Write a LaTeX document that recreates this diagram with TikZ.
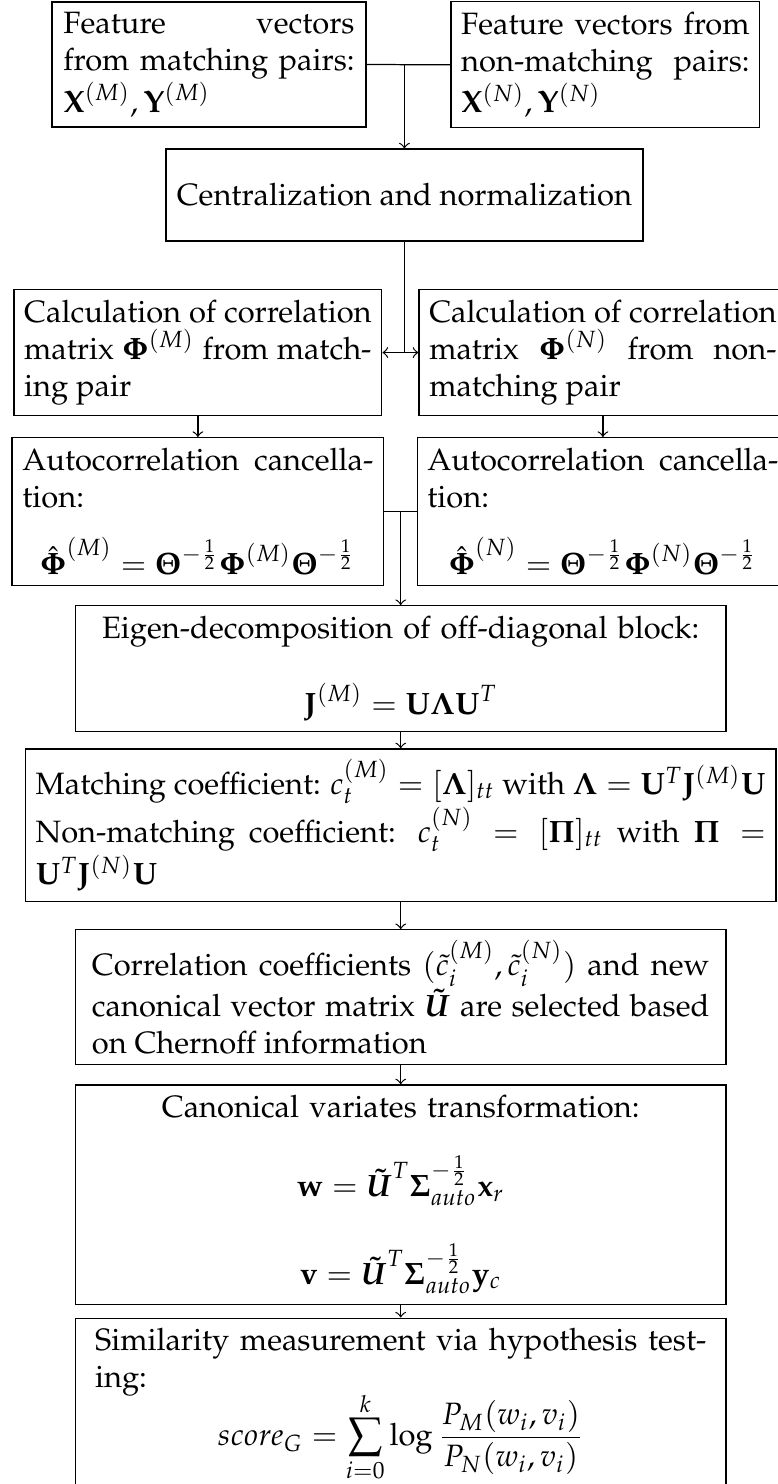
\documentclass[tikz,border=0pt]{standalone}
\usepackage[T1]{fontenc}
\usepackage{mathpazo}
\usepackage{amsmath}
\usepackage{amssymb}
\usepackage{tikz}
\usetikzlibrary{arrows, positioning}

% space above a display inside a box, none below it
\newcommand{\eqgap}[1]{\abovedisplayskip=#1\relax\abovedisplayshortskip=#1\relax
    \belowdisplayskip=0pt\relax\belowdisplayshortskip=0pt\relax}

\begin{document}
\begin{tikzpicture}[
    node distance=6.8pt,
    box/.style={rectangle, draw, align=justify},
    cbox/.style={rectangle, draw, align=center},
    arrow/.style={->}
]
    \useasboundingbox (0,0) rectangle (252pt,-480.7pt);

    % Nodes
    \node[box, text width=94.3pt, inner xsep=3.7pt, minimum height=39.8pt] (featm) at (67.7pt,-20.9pt) {Feature vectors\linebreak from matching pairs: $\mathbf{X}^{(M)},\mathbf{Y}^{(M)}$};
    \node[box, text width=93.4pt, minimum height=40.2pt] (featn) at (196.1pt,-21pt) {Feature vectors from non-matching pairs: $\mathbf{X}^{(N)},\mathbf{Y}^{(N)}$};
    \node[cbox, minimum width=154.5pt, minimum height=29.8pt] (centr) at (131pt,-63.2pt) {Centralization and normalization};

    \node[box, text width=112.5pt, minimum height=40.2pt] (corrm) at (64.1pt,-114.2pt) {Calculation of correlation matrix $\boldsymbol{\Phi}^{(M)}$ from matching pair};
    \node[box, text width=112.5pt, minimum height=40.2pt] (corrn) at (195.3pt,-114.2pt) {Calculation of correlation matrix $\boldsymbol{\Phi}^{(N)}$ from non-matching pair};
    \node[box, text width=113.7pt, minimum height=47.7pt, below=of corrm] (autom) {Autocorrelation cancellation:\eqgap{8.6pt}
        \[\hat{\boldsymbol{\Phi}}^{(M)}=\boldsymbol{\Theta}^{-\frac{1}{2}}\boldsymbol{\Phi}^{(M)}\boldsymbol{\Theta}^{-\frac{1}{2}}\]};
    \node[box, text width=113.7pt, minimum height=47.7pt, below=of corrn] (auton) {Autocorrelation cancellation:\eqgap{8.6pt}
        \[\hat{\boldsymbol{\Phi}}^{(N)}=\boldsymbol{\Theta}^{-\frac{1}{2}}\boldsymbol{\Phi}^{(N)}\boldsymbol{\Theta}^{-\frac{1}{2}}\]};

    \node[cbox, text width=204pt, minimum height=39.8pt, anchor=north] (eigen) at (129.8pt,-196pt) {Eigen-decomposition of off-diagonal block:\eqgap{10.8pt}
        \[\mathbf{J}^{(M)}=\mathbf{U}\boldsymbol{\Lambda}\mathbf{U}^T\]};
    \node[box, text width=236.5pt, minimum height=49.2pt, anchor=north] (coef) at (129.8pt,-242.4pt) {Matching coefficient: $c_t^{(M)}=[\boldsymbol{\Lambda}]_{tt}$ with $\boldsymbol{\Lambda}=\mathbf{U}^T\mathbf{J}^{(M)}\mathbf{U}$\par
        Non-matching coefficient: $c_t^{(N)}=[\boldsymbol{\Pi}]_{tt}$ with $\boldsymbol{\Pi}=\mathbf{U}^T\mathbf{J}^{(N)}\mathbf{U}$};
    \node[box, text width=200pt, inner xsep=5.35pt, minimum height=43.4pt, below=8.8pt of coef] (select) {Correlation coefficients $(\tilde{c}_i^{(M)},\tilde{c}_i^{(N)})$ and new canonical vector matrix $\boldsymbol{\tilde{U}}$ are selected based on Chernoff information};
    \node[cbox, text width=204pt, minimum height=68.7pt, below=6.3pt of select] (trans) {Canonical variates transformation:\eqgap{11pt}
        \[\mathbf{w}=\boldsymbol{\tilde{U}}^T\boldsymbol{\Sigma}_{auto}^{-\frac{1}{2}}\mathbf{x}_r\]
        \[\mathbf{v}=\boldsymbol{\tilde{U}}^T\boldsymbol{\Sigma}_{auto}^{-\frac{1}{2}}\mathbf{y}_c\]};
    \node[box, text width=198pt, inner xsep=6.35pt, below=4.1pt of trans] (simil) {Similarity measurement via hypothesis testing:\eqgap{-2.5pt}
        \[score_G=\sum_{i=0}^{k}\log\frac{P_M(w_i,v_i)}{P_N(w_i,v_i)}\rule[-14pt]{0pt}{14pt}\]};

    % Arrows
    \draw (featm.east) -- (featn.west);
    \draw[arrow] (featm.east -| centr.north) -- (centr.north);
    \draw (centr.south) -- (centr.south |- corrm.east);
    \draw[<->] (corrm.east) -- (corrn.west);
    \draw[arrow] (corrm) -- (autom);
    \draw[arrow] (corrn) -- (auton);
    \draw (autom.east) -- (auton.west);
    \draw[arrow] (autom.east -| eigen.north) -- (eigen.north);
    \draw[arrow] (eigen) -- (coef);
    \draw[arrow] (coef) -- (select);
    \draw[arrow] (select) -- (trans);
    \draw[arrow] (trans) -- (simil);
\end{tikzpicture}
\end{document}
